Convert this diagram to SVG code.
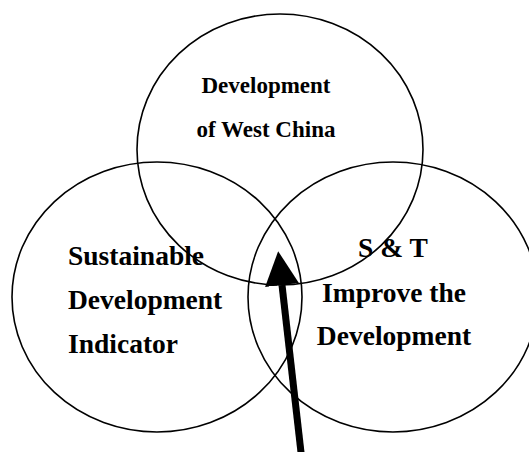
<svg xmlns="http://www.w3.org/2000/svg" width="529" height="452" viewBox="0 0 529 452">
  <style>
    .ring { fill: none; stroke: #000; stroke-width: 1.6; }
    .lbl { font-family: "Liberation Serif", "Times New Roman", serif; font-weight: bold; fill: #000; }
    .big { font-size: 27.5px; }
    .small { font-size: 23px; }
    .arrow { stroke: #000; stroke-width: 7; fill: none; }
  </style>
  <defs>
    <marker id="head" markerUnits="userSpaceOnUse" markerWidth="34" markerHeight="34" viewBox="0 0 34 34" refX="0" refY="17" orient="auto">
      <path d="M0,0 L34,17 L0,34 Z" fill="#000"/>
    </marker>
  </defs>
  <rect width="529" height="452" fill="#fff"/>

  <g id="west-china">
    <ellipse class="ring" cx="280" cy="149.5" rx="143" ry="135.5"/>
    <text class="lbl small" x="266" y="93" text-anchor="middle">Development</text>
    <text class="lbl small" x="266" y="137" text-anchor="middle">of West China</text>
  </g>

  <g id="sustainable">
    <ellipse class="ring" cx="157" cy="297" rx="145" ry="135"/>
    <text class="lbl big" x="68" y="265">Sustainable</text>
    <text class="lbl big" x="68" y="309">Development</text>
    <text class="lbl big" x="68" y="353">Indicator</text>
  </g>

  <g id="science-tech">
    <ellipse class="ring" cx="393" cy="297" rx="145" ry="135"/>
    <text class="lbl big" x="393" y="257" text-anchor="middle">S &amp; T</text>
    <text class="lbl big" x="394" y="302" text-anchor="middle">Improve the</text>
    <text class="lbl big" x="394" y="345" text-anchor="middle">Development</text>
  </g>

  <g id="connectors">
    <line class="arrow" x1="302.1" y1="462" x2="282" y2="285" marker-end="url(#head)"/>
  </g>
</svg>
